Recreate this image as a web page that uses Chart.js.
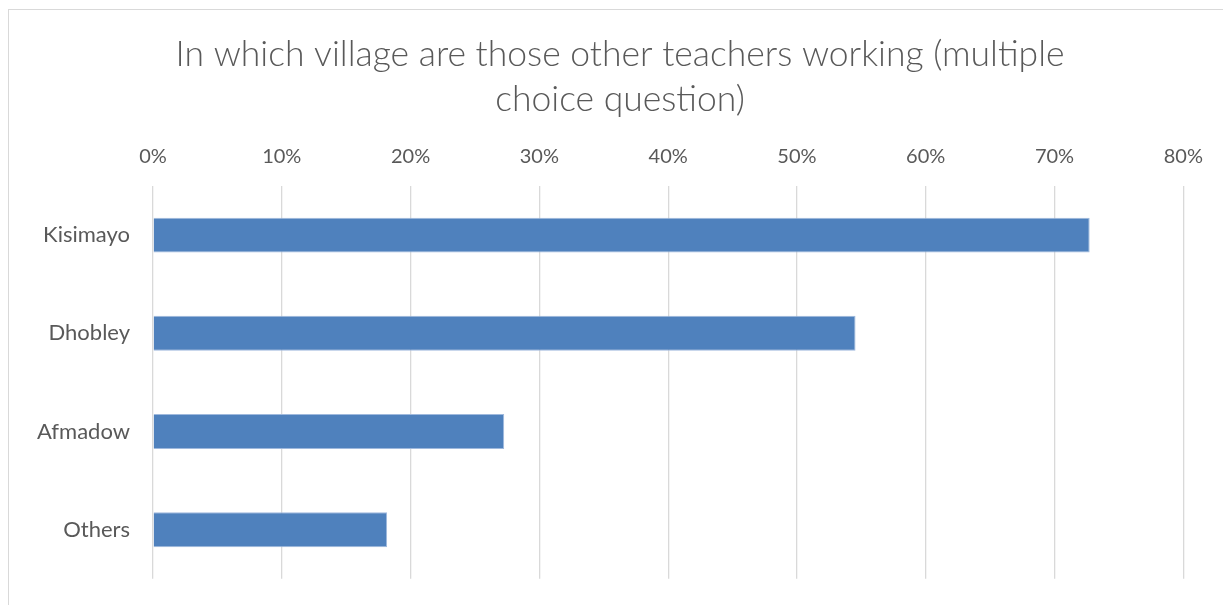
<!DOCTYPE html>
<html>
<head>
<meta charset="utf-8">
<script src="https://cdn.jsdelivr.net/npm/chart.js@4.4.1/dist/chart.umd.min.js"></script>
<style>
  html, body { margin: 0; padding: 0; background: #ffffff; overflow: hidden; width: 1223px; height: 605px; }
  #frame { position: absolute; left: 8px; top: 9px; width: 1240px; height: 620px; border: 1px solid #d9d9d9; background: #fff; }
  #c { position: absolute; left: 0; top: 0; }
</style>
</head>
<body>
<div id="frame"><canvas id="c" width="1224" height="605"></canvas></div>
<script>
const titleLines = ['In which village are those other teachers working (multiple', 'choice question)'];
const categories = ['Kisimayo', 'Dhobley', 'Afmadow', 'Others'];
const shares = [72.73, 54.55, 27.27, 18.18];
const tickMax = 80;
const tickStep = 10;

const textColor = '#595959';
const gridColor = '#d9d9d9';

new Chart(document.getElementById('c'), {
  type: 'bar',
  data: {
    labels: categories,
    datasets: [{
      data: shares,
      backgroundColor: '#4f81bd',
      borderColor: '#9fb9dd',
      borderWidth: 1,
      barPercentage: 0.355,
      categoryPercentage: 1.0
    }]
  },
  options: {
    indexAxis: 'y',
    responsive: false,
    animation: false,
    layout: { padding: { left: 0, right: 2, top: 0, bottom: 17 } },
    plugins: {
      legend: { display: false },
      tooltip: { enabled: false },
      title: {
        display: true,
        text: titleLines,
        color: textColor,
        font: { family: 'Lato', size: 35.5, weight: '300', lineHeight: '45px' },
        padding: { top: 22.5, bottom: 0 }
      }
    },
    scales: {
      x: {
        position: 'top',
        min: 0,
        max: tickMax,
        ticks: {
          stepSize: tickStep,
          color: textColor,
          font: { family: 'Lato', size: 20 },
          padding: 17,
          callback: v => v + '%'
        },
        grid: { color: gridColor, lineWidth: 1.3, drawTicks: false },
        border: { display: false },
        afterFit: s => { s.height = 63.5; }
      },
      y: {
        ticks: {
          color: textColor,
          font: { family: 'Lato', size: 22 },
          padding: 23
        },
        grid: { display: false, drawTicks: false },
        border: { display: false },
        afterFit: s => { s.width = 144; }
      },
      yRight: {
        type: 'category',
        position: 'right',
        ticks: { display: false },
        grid: { display: false, drawTicks: false },
        border: { display: false },
        afterFit: s => { s.width = 47.7; }
      }
    }
  }
});
</script>
</body>
</html>
